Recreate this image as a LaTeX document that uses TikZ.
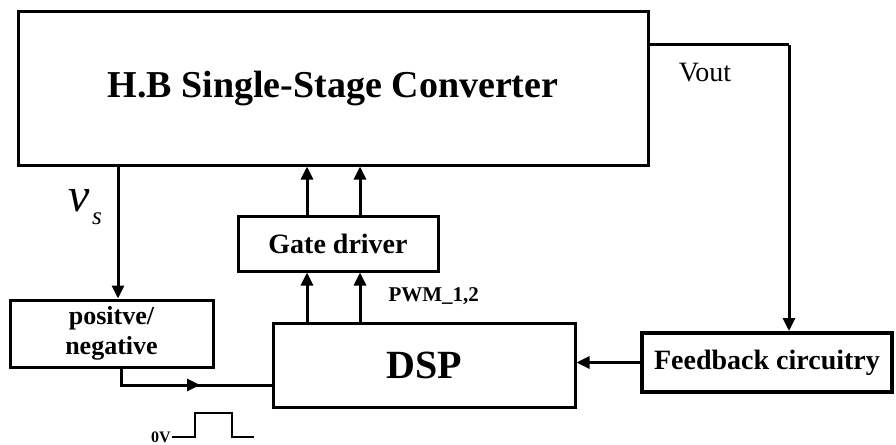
\documentclass[tikz,border=0pt]{standalone}
\usepackage{fontspec}
\setmainfont{Liberation Serif}
\usetikzlibrary{arrows.meta}
\begin{document}
\begin{tikzpicture}[x=1pt,y=-1pt,
  blk/.style={draw,line width=3pt,inner sep=0pt,font=\bfseries},
  wire/.style={line width=3pt},
  arr/.style={wire,-{Triangle[length=13pt,width=12pt]}}]
\useasboundingbox (0,0) rectangle (896,444);
% boxes
\node[blk,minimum width=630pt,minimum height=153pt,font=\bfseries\fontsize{38}{40}\selectfont] (hb) at (333,88.5) {H.B Single-Stage Converter};
\node[blk,minimum width=200pt,minimum height=55pt,font=\bfseries\fontsize{28}{30}\selectfont] (gd) at (338,243.5) {Gate driver};
\node[blk,minimum width=302pt,minimum height=84pt,font=\bfseries\fontsize{40}{40}\selectfont] (dsp) at (424,365) {DSP};
\node[blk,minimum width=203pt,minimum height=67pt,align=center,font=\bfseries\fontsize{26}{30}\selectfont] (pn) at (111.5,333.5) {positve/\\negative};
\node[blk,line width=4pt,minimum width=250pt,minimum height=59pt,font=\bfseries\fontsize{28}{30}\selectfont] (fb) at (767,362.5) {Feedback circuitry};
% coordinates
\coordinate (vo1) at (648,45);
\coordinate (vo2) at (789,45);
\coordinate (pn1) at (121,385);
\coordinate (pnm) at (200,385);
% connectors
\draw[wire] (hb.east |- vo1) -- (vo2);
\draw[arr] (vo2) -- (vo2 |- fb.north);
\draw[arr] (hb.south -| 118,0) -- (pn.north -| 118,0);
\draw[wire] (pn.south -| pn1) -- (pn1) -- (pn1 -| dsp.west);
\draw[arr] (pn1) -- (pnm);
\draw[arr] (fb.west) -- (dsp.east |- fb.west);
\draw[arr] (gd.north -| 307,0) -- (hb.south -| 307,0);
\draw[arr] (gd.north -| 360,0) -- (hb.south -| 360,0);
\draw[arr] (dsp.north -| 307,0) -- (gd.south -| 307,0);
\draw[arr] (dsp.north -| 360,0) -- (gd.south -| 360,0);
% labels
\node[font=\fontsize{28}{30}\selectfont] (vout) at (705,73) {Vout};
\node[font=\itshape\fontsize{48}{50}\selectfont] (vs) at (79,201) {v};
\node[font=\itshape\fontsize{25}{26}\selectfont] (vsub) at (97,219) {s};
\node[font=\bfseries\fontsize{21}{24}\selectfont,anchor=west] (pwm) at (385,296) {PWM\_1,2};
\node[font=\bfseries\fontsize{16}{18}\selectfont,anchor=east,inner sep=1pt] (zv) at (172,437) {0V};
\draw[wire,line width=2.5pt] (zv.east) -- (195,437) -- (195,413) -- (232,413) -- (232,437) -- (254,437);
\end{tikzpicture}
\end{document}
